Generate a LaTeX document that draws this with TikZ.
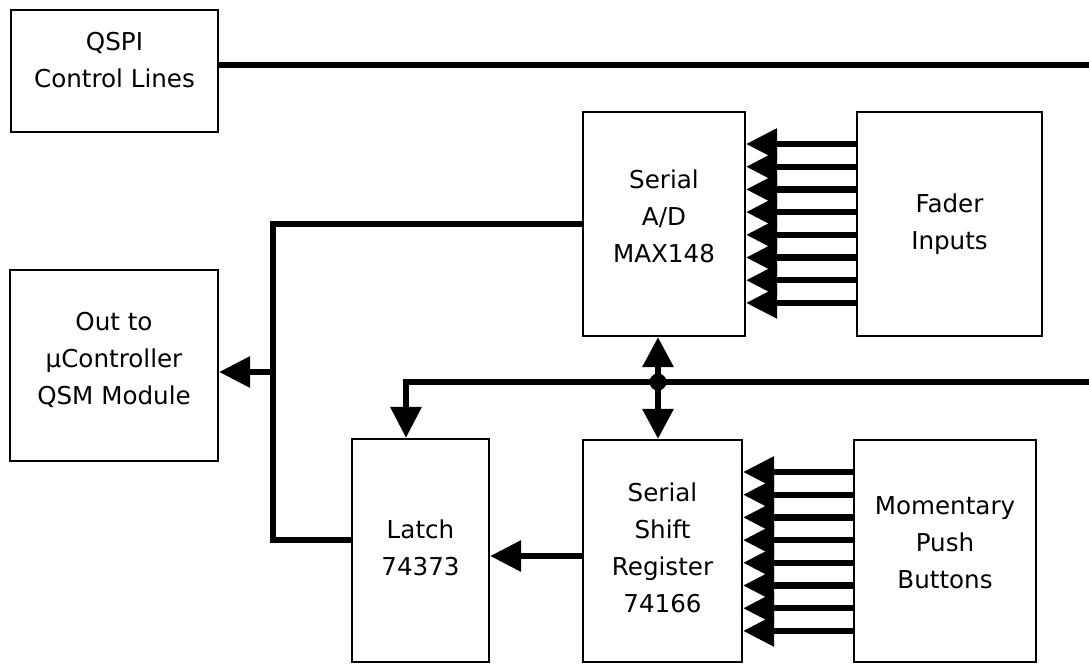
\documentclass[tikz,border=0pt]{standalone}
\usepackage{fontspec}
\setmainfont{DejaVu Sans}
\usetikzlibrary{arrows.meta}
\tikzset{
  box/.style={draw, line width=2.2pt, rectangle, inner sep=0pt},
  lbl/.style={align=center, anchor=base, inner sep=0pt, font=\fontsize{24.6}{36.7}\selectfont},
  bus/.style={line width=6.2pt, line join=miter, line cap=butt},
  arr/.style={-{Triangle[length=31pt,width=30pt]}},
  darr/.style={{Triangle[length=30pt,width=30pt]}-{Triangle[length=30pt,width=30pt]}},
}
\begin{document}
\begin{tikzpicture}[x=1pt,y=-1pt]
\useasboundingbox (0,0) rectangle (1089,665);
% boxes
\node[box, minimum width=207pt, minimum height=122pt] (qspi) at (114.5,71) {};
\node[box, minimum width=208pt, minimum height=191pt] (out) at (114,365.5) {};
\node[box, minimum width=162pt, minimum height=224pt] (ad) at (664,224) {};
\node[box, minimum width=185pt, minimum height=224pt] (fader) at (949.5,224) {};
\node[box, minimum width=137pt, minimum height=223pt] (latch) at (420.5,550.5) {};
\node[box, minimum width=159pt, minimum height=222pt] (sr) at (662.5,551) {};
\node[box, minimum width=182pt, minimum height=222pt] (mom) at (945,551) {};
% labels (anchor = baseline of last line)
\node[lbl] (tqspi) at (114.5,87) {QSPI\\Control Lines};
\node[lbl] (tout) at (114,404) {Out to\\µController\\QSM Module};
\node[lbl] (tad) at (664,262) {Serial\\A/D\\MAX148};
\node[lbl] (tfader) at (949.5,249) {Fader\\Inputs};
\node[lbl] (tlatch) at (420.5,575) {Latch\\74373};
\node[lbl] (tsr) at (662.5,612) {Serial\\Shift\\Register\\74166};
\node[lbl] (tmom) at (945,588) {Momentary\\Push\\Buttons};
% coordinates
\coordinate (qspiR) at (1089,65);
\coordinate (busR) at (1089,382);
\coordinate (busL) at (406,382);
\coordinate (junc) at (658,382);
\coordinate (lbT) at (273,224);
\coordinate (lbM) at (273,372);
\coordinate (lbB) at (273,540);
\coordinate (lsy) at (0,556);
% QSPI control line
\draw[bus] (qspi.east |- qspiR) -- (qspiR);
% fader input arrows
\foreach \i in {0,...,7} {
  \draw[bus, arr] (fader.west |- 0,{144+22.7*\i}) -- (ad.east |- 0,{144+22.7*\i});
}
% push button arrows
\foreach \i in {0,...,7} {
  \draw[bus, arr] (mom.west |- 0,{472+22.7*\i}) -- (sr.east |- 0,{472+22.7*\i});
}
% left output bus
\draw[bus] (ad.west |- lbT) -- (lbT) -- (lbB) -- (latch.west |- lbB);
\draw[bus, arr] (lbM) -- (out.east |- lbM);
% control bus
\draw[bus, arr] (busR) -- (busL) -- (latch.north -| busL);
\draw[bus, darr] (ad.south -| junc) -- (sr.north -| junc);
\fill (junc) circle (8.5pt);
% shift register to latch
\draw[bus, arr] (sr.west |- lsy) -- (latch.east |- lsy);
\end{tikzpicture}
\end{document}
